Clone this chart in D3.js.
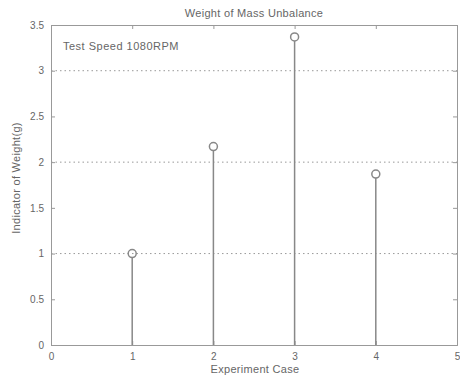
<!DOCTYPE html>
<html>
<head>
<meta charset="utf-8">
<script src="https://cdn.jsdelivr.net/npm/d3@7"></script>
<style>
body { margin: 0; background: #fff; }
text { font-family: "Liberation Sans", Arial, sans-serif; fill: #666; }
.axis path, .axis line { stroke: #999; }
.axis text { font-size: 10px; fill: #666; }
</style>
</head>
<body>
<script>
// stem data: experiment case vs weight indicator
let cases = [1, 2, 3, 4];
let weights = [1.0, 2.17, 3.37, 1.87];
let xTicks = [0, 1, 2, 3, 4, 5];
let yTicks = [0, 0.5, 1, 1.5, 2, 2.5, 3, 3.5];
let gridValues = [1, 2, 3];

let margin = {top: 25, right: 3, bottom: 31, left: 51};
let width = 460 - margin.left - margin.right;
let height = 376 - margin.top - margin.bottom;

let xScale = d3.scaleLinear().domain([0, 5]).range([0, width]);
let yScale = d3.scaleLinear().domain([0, 3.5]).range([height, 0]);

let svg = d3.select("body").append("svg")
	.attr("width", 460)
	.attr("height", 376);
let chart = svg.append("g")
	.attr("transform", "translate(" + margin.left + "," + margin.top + ")");

// dotted grid lines
chart.selectAll(".grid")
		.data(gridValues)
	.enter().append("line")
		.attr("x1", 0).attr("x2", width)
		.attr("y1", function(d) { return yScale(d); })
		.attr("y2", function(d) { return yScale(d); })
		.attr("stroke", "#999")
		.attr("stroke-width", 1)
		.attr("stroke-dasharray", "1.5,3");

// axes, box style
let tick = 4;
chart.append("g").attr("class", "axis")
	.attr("transform", "translate(0," + height + ")")
	.call(d3.axisBottom(xScale).tickValues(xTicks).tickSize(-tick).tickPadding(tick + 4).tickFormat(d3.format("d")));
chart.append("g").attr("class", "axis")
	.call(d3.axisTop(xScale).tickValues(xTicks).tickSize(-tick).tickFormat(""));
chart.append("g").attr("class", "axis")
	.call(d3.axisLeft(yScale).tickValues(yTicks).tickSize(-tick).tickPadding(tick + 3).tickFormat(d3.format("")));
chart.append("g").attr("class", "axis")
	.attr("transform", "translate(" + width + ",0)")
	.call(d3.axisRight(yScale).tickValues(yTicks).tickSize(-tick).tickFormat(""));

// stems
chart.selectAll(".stem")
		.data(cases)
	.enter().append("line")
		.attr("x1", function(d) { return xScale(d); })
		.attr("x2", function(d) { return xScale(d); })
		.attr("y1", yScale(0))
		.attr("y2", function(d, i) { return yScale(weights[i]) + 4; })
		.attr("stroke", "#888")
		.attr("stroke-width", 1.5);

chart.selectAll(".dot")
		.data(cases)
	.enter().append("circle")
		.attr("cx", function(d) { return xScale(d); })
		.attr("cy", function(d, i) { return yScale(weights[i]); })
		.attr("r", 4)
		.attr("fill", "none")
		.attr("stroke", "#888")
		.attr("stroke-width", 1.5);

// labels
svg.append("text")
	.attr("x", margin.left + width / 2).attr("y", 17)
	.attr("text-anchor", "middle").attr("font-size", "11px")
	.attr("letter-spacing", "0.3px")
	.text("Weight of Mass Unbalance");
svg.append("text")
	.attr("x", margin.left + width / 2 + 1).attr("y", 373)
	.attr("text-anchor", "middle").attr("font-size", "11px")
	.attr("letter-spacing", "0.3px")
	.text("Experiment Case");
svg.append("text")
	.attr("transform", "translate(20,178) rotate(-90)")
	.attr("text-anchor", "middle").attr("font-size", "11px")
	.attr("letter-spacing", "0.3px")
	.text("Indicator of Weight(g)");
chart.append("text")
	.attr("x", 12).attr("y", 25)
	.attr("font-size", "11px")
	.attr("letter-spacing", "0.5px")
	.text("Test Speed 1080RPM");
</script>
</body>
</html>
